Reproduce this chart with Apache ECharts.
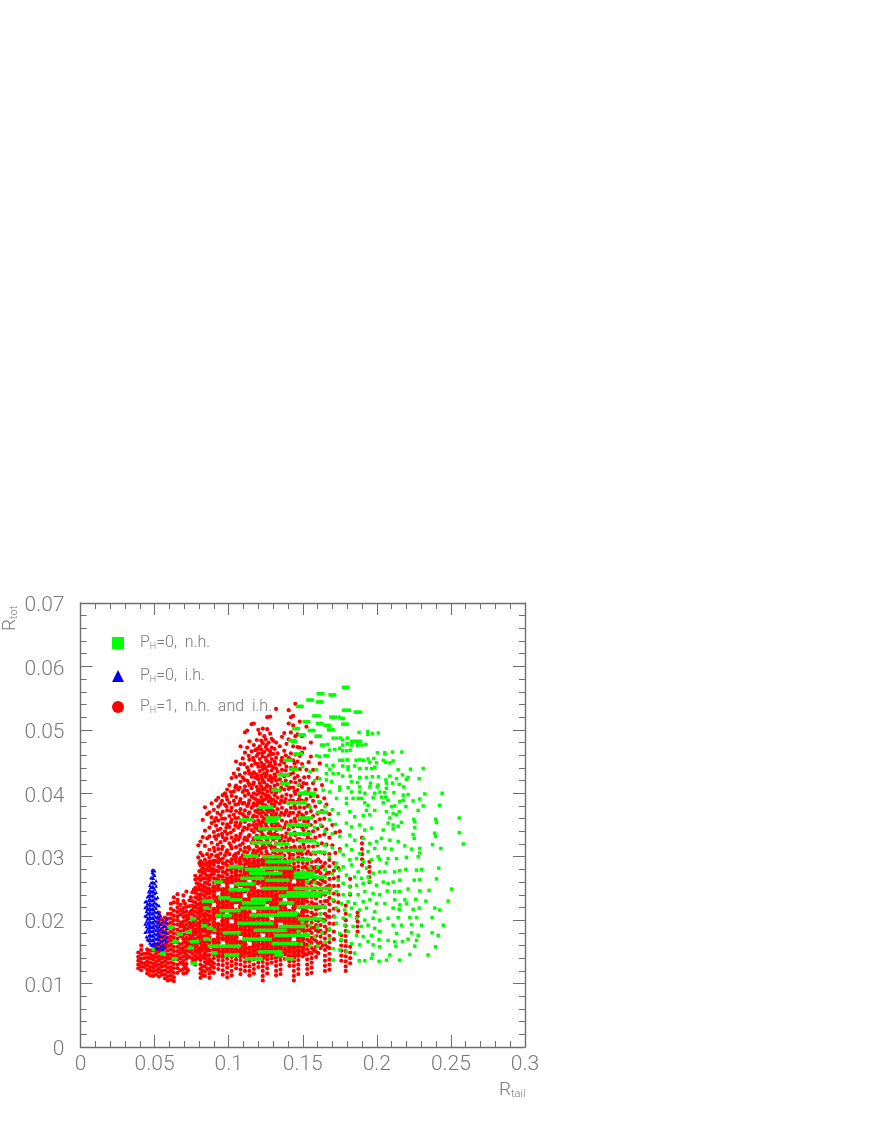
<!DOCTYPE html>
<html><head><meta charset="utf-8">
<style>html,body{margin:0;padding:0;background:#fff}#c{width:872px;height:1128px}</style>
<script src="https://cdn.jsdelivr.net/npm/echarts@6/dist/echarts.min.js"></script>
</head><body><div id="c"></div>
<script>
// All y values below are in units of 0.001 (R_tot x 1000); x values are R_tail.
const xTicks=[0,0.05,0.1,0.15,0.2,0.25,0.3];
const yTicks=[0,0.01,0.02,0.03,0.04,0.05,0.06,0.07];

// Red: solid core of the cloud, columns [x,[y...]]
const redCore=[
[.090,[14.7,15.4,16.1,16.8,18.2,18.9,19.6,20.3,21,21.7,23.1,23.8,24.5,25.2]],
[.093,[14.4,15.1,15.8,16.5,17.2,17.9,18.6,19.3,20.7,21.4,22.1,22.8,23.5,24.9,25.6]],
[.096,[14.3,15,15.7,17.1,17.8,18.5,19.2,19.9,20.6,21.3,22,22.7,23.4,24.1,24.8,26.2]],
[.099,[14.6,15.3,16,16.7,17.4,18.1,18.8,19.5,20.2,21.6,22.3,23,23.7,24.4,25.1,25.8,26.5]],
[.102,[14.9,15.6,16.3,17,17.7,18.4,19.1,20.5,21.2,21.9,22.6,23.3,24,24.7,26.1,26.8]],
[.105,[14.5,15.2,15.9,16.6,17.3,18,18.7,19.4,20.1,20.8,21.5,22.9,23.6,24.3,25,25.7,26.4,27.1,27.8]],
[.108,[14.4,15.1,15.8,16.5,17.9,18.6,19.3,20,20.7,21.4,22.1,22.8,23.5,24.2,25.6,26.3,27,28.4]],
[.111,[14.8,15.5,16.2,16.9,17.6,18.3,19,19.7,20.4,21.1,21.8,22.5,23.2,24.6,25.3,26,26.7,27.4,28.1,29.5]],
[.114,[14.2,14.9,15.6,17,17.7,18.4,19.1,19.8,20.5,21.2,21.9,22.6,23.3,24,24.7,25.4,26.8,27.5,28.2,28.9]],
[.117,[14.5,15.2,15.9,16.6,17.3,18,18.7,19.4,20.1,20.8,22.2,22.9,23.6,24.3,25,25.7,26.4,27.1,27.8,28.5,29.2,29.9]],
[.120,[14.7,15.4,16.1,16.8,17.5,18.2,18.9,19.6,20.3,21,21.7,22.4,23.1,23.8,24.5,25.9,26.6,27.3,28,28.7,29.4]],
[.123,[14.1,14.8,15.5,16.2,16.9,18.3,19,19.7,20.4,21.1,21.8,22.5,23.2,23.9,24.6,25.3,26,26.7,27.4,28.8,29.5]],
[.126,[14.5,15.2,15.9,16.6,17.3,18,18.7,19.4,20.1,20.8,21.5,22.9,23.6,24.3,25,25.7,26.4,27.1,27.8,28.5,29.2,29.9]],
[.129,[14.7,15.4,16.1,16.8,17.5,18.2,18.9,19.6,21,21.7,22.4,23.1,23.8,24.5,25.2,25.9,26.6,27.3,28,28.7,29.4]],
[.132,[14.2,14.9,15.6,16.3,17,17.7,18.4,19.1,19.8,20.5,21.2,21.9,22.6,23.3,24,24.7,25.4,26.1,26.8,28.2,28.9,29.6]],
[.135,[14.4,15.1,15.8,16.5,17.2,17.9,18.6,20,20.7,21.4,22.1,22.8,23.5,24.2,24.9,25.6,26.3,27,27.7,28.4,29.1]],
[.138,[14.7,15.4,16.2,16.9,17.6,18.3,19,19.7,20.4,21.1,21.8,22.5,23.9,24.6,25.3,26,26.7,27.4,28.1,28.8]],
[.141,[14.3,15.1,15.8,16.5,17.2,17.9,18.6,19.3,20,20.7,21.4,22.8,23.5,24.2,24.9,25.6,26.3,27,27.7,28.4]],
[.144,[14.2,14.9,15.6,16.3,17.7,18.4,19.1,19.8,20.5,21.2,21.9,22.6,23.3,24,24.7,25.4,26.8,27.5,28.2]],
[.147,[14.5,15.2,15.9,16.6,17.3,18,18.7,19.4,20.1,20.8,22.2,22.9,23.6,24.3,25,25.7,26.4,27.1]],
[.150,[15,15.7,16.4,17.1,18.5,19.2,19.9,20.6,21.3,22,22.7,23.4,24.8,25.5,26.2]]
];

// Red: looser columns [x,[y...]]
const redLoose=[
[.039,[12.4,13,13.6,14.2,14.9]],
[.041,[12.1,12.7,13.3,13.9,14.6,15.3,16]],
[.043,[12.6,13.2,14,14.7]],
[.045,[11.6,12.2,12.9,13.5,14.1,14.8,15.4]],
[.047,[11.3,12,12.6,13.3,14,14.6,15.2]],
[.049,[11.2,11.9,12.5,13.1,13.8,14.4,15.2,16]],
[.051,[11.4,12.1,12.8,13.4,14.1,14.7,15.3,16]],
[.053,[11.1,11.8,12.4,13,13.7,14.3,15,15.6,16.3,17,17.7,18.4,19.2,19.9,20.6,21.2]],
[.055,[11.4,12,12.7,13.3,14,14.6,15.3,15.9,16.6,17.3,18,18.6,19.4,20.1]],
[.057,[10.8,11.4,12.1,12.8,13.5,14.1,14.8,15.5,16.2,16.9,17.5,18.2,19,19.7,20.4]],
[.059,[10.5,11.1,11.8,12.5,13.2,13.9,14.5,15.2,15.9,16.6,17.2,17.9,18.7,19.4,20.2,21]],
[.061,[10.6,11.3,12,12.6,13.3,14,14.6,15.4,16.1,16.8,17.4,18.2,18.9,19.6,20.3,21,21.8,22.6]],
[.063,[10.4,11,11.7,12.4,13.1,13.8,14.4,15.1,15.8,16.5,17.2,17.9,18.6,19.3,20,20.7,21.5,22.8,23.6]],
[.0655,[11.7,12.4,13,13.8,14.4,15.1,15.8,16.5,17.1,17.8,18.5,19.3,20,20.6,21.3,22,22.7,23.2]],
[.0675,[12.1,13.3,14,14.8,15.5,16.2,17.5,18.2,19,19.6,20.9,21.6,22.4]],
[.0695,[11.6,12.3,13,13.6,14.3,15,15.7,16.4,17,17.7,18.4,19,19.8,20.5,21.2,21.9,23,23.9]],
[.0715,[11.7,12.4,13.1,13.9,14.5,15.2,15.9,16.5,17.2,17.9,18.6,19.3,20,20.7,21.4,22.1,24.5]],
[.0735,[14.2,15,15.6,16.3,17,17.7,18.9,19.6,20.3,21,22.2,23.1]],
[.0755,[13.4,14,14.7,15.4,16.1,16.8,17.5,18.2,18.8,19.5,20.2,20.9,21.6,22.3,23,24.4]],
[.0775,[13,13.7,14.4,15.1,15.8,16.4,17.1,17.8,18.5,19.2,19.9,20.6,21.3,22,22.8,23.6,24.3,25.1,26.4,27]],
[.0795,[14,14.8,15.5,16.6,17.4,18.1,18.8,19.5,20.3,21,21.8,22.5,23.3,24,24.9,25.7,26.6]],
[.081,[10.9,11.6,12.3,13,13.7,14.4,15,15.7,16.4,17.1,17.8,18.5,19.1,19.8,20.6,21.3,22,22.7,23.4,24.1,24.8,25.6,26.3,27,27.8,28.6,29.3]],
[.0825,[11.3,12,12.7,14.1,15.3,16,16.7,17.4,18.3,19.2,20,20.9,21.6,22.3,23.2,24,24.7,25.4,26.6,27.5,28.2,29]],
[.084,[11.2,11.9,12.7,13.4,14,14.8,15.5,16.1,16.8,17.5,18.2,18.9,19.6,20.3,21,21.7,22.4,23.1,23.8,24.5,25.2,25.9,26.6,27.3,28,28.7,29.5]],
[.0855,[12.3,13.2,14.4,15.2,15.9,16.6,17.6,18.4,19.2,20,20.8,21.5,22.5,23.3,24.2,25,25.8,27,27.9,29]],
[.087,[10.9,11.6,12.3,13.1,13.8,14.5,15.2,15.9,16.5,17.2,17.9,18.6,19.3,20,20.7,21.4,22.1,22.8,23.5,24.2,24.9,25.6,26.3,27,27.8,28.5,29.2,29.9]],
[.0885,[11.8,12.7,13.5,27.2,28.1,29.2]],
[.090,[11.7,12.5,13.2,14,25.9,26.6,27.3,28,28.7,29.4]],
[.093,[12.3,13,13.7,26.3,27,27.7,28.4,29.1,29.8]],
[.096,[11.4,12.1,12.9,13.6,26.9,27.6,28.3,29,29.7]],
[.099,[11,11.7,12.5,13.2,13.9,27.2,27.9,28.6,29.3]],
[.102,[11.3,12,12.8,13.5,14.2,27.5,28.2,28.9,29.6]],
[.105,[12.4,13.1,13.8,28.5,29.2,29.9]],
[.108,[11.5,12.2,13,13.7,27.7,29.1,29.8]],
[.111,[12,12.7,13.4,14.1,28.8]],
[.114,[11.3,12,12.7,13.5,29.6]],
[.117,[11.6,12.3,13,13.8]],
[.120,[12.6,13.3,14]],
[.123,[10.5,11.2,12,12.7,13.4]],
[.126,[11.6,12.4,13.1,13.8]],
[.129,[13.3,14]],
[.132,[11.3,12,12.8,13.5]],
[.135,[11.5,12.2,13,13.7,29.8]],
[.138,[13.9,29.5]],
[.141,[12.8,13.5,29.1,29.8]],
[.144,[10.5,11.2,12,12.8,13.5,28.9,29.6]],
[.147,[11.5,12.3,13,13.7,27.8,28.5,29.2,29.9]],
[.150,[14.3,26.9,27.6,28.3,29,29.7]],
[.153,[11.5,12.3,13,13.8,14.6,15.4,16.1,16.9,17.6,18.4,19.1,19.9,20.6,21.4,22.1,22.9,23.6,24.4,25.1,25.9,26.6,27.4,28.1,28.9,29.6]],
[.156,[11.7,12.5,13.3,14,14.8,15.6,16.4,17.2,18,18.8,19.6,20.4,21.2,22,22.8,23.6,24.4,25.2,26,26.8,27.6,28.4,29.2]],
[.159,[14.2,15,15.8,16.7,17.5,18.4,19.2,20,20.9,21.7,22.5,23.4,24.2,25,25.9,26.7,27.6,28.4,29.3]],
[.162,[15.6,16.5,17.4,18.3,19.2,20.1,21,22,22.9,23.8,24.7,25.6,26.5,27.4,28.3,29.2]],
[.165,[12,12.8,13.6,14.4,15.3,16.2,17.1,18,19,20,21,22,23,24,25,26,27,28,29]],
[.168,[12.2,13,13.8,14.7,15.6,16.5,17.5,18.5,19.5,20.5,21.5,22.5,23.5,24.5,25.5,26.5,27.5,28.5,29.5]],
[.171,[17,18.2,19.4,20.6,21.8,23,24.2,25.4,26.6,27.8,29]],
[.174,[21.5,22.8,24,25.4,26.8,28.2]],
[.176,[13.6,14.4,15.2,16,16.8,17.6]],
[.179,[12,12.7,13.5,14.3,15.1,15.9,16.7,17.5,18.3,19.1,20,21,22.3]],
[.182,[13.2,14,14.9,15.8,24,25.3,26.5]],
[.187,[18.2,19,19.8,20.6,21.2]],
[.190,[28.7,29.6,30.4,31.2,32.1,33]],
[.195,[26,26.8,27.6,28.4,29.2]]
];

// Red: upper cloud, columns [x,[y...]]
const redUpper=[
[.0795,[31.8,29.9]],[.081,[30.6,32.4]],[.0825,[33.1,30.2,35.8]],[.084,[31.7,37.8,34.1]],[.0855,[30.4,32.9,36.7]],
[.087,[31.1,34.6,33.2,37]],[.0885,[30.3,32.2,35.3,36.2,38.4]],[.090,[31.4,33.9,37.4]],[.0915,[30.1,32.8,34.9,36.1,38.9]],
[.093,[31.2,33.4,35.7,37.9,39.3]],[.0945,[30.5,32.3,34.4,36.6,38.3]],[.096,[31.6,33.1,35.2,37.1,39.7]],[.0975,[30.2,32.6,34,36,38.2,40]],
[.099,[31,33.6,35.1,37.3,39,40.6]],[.1005,[30.4,32.1,34.7,36.4,38.5,41.3]],[.102,[31.3,33,35.8,37.7,39.6,42.4]],
[.1035,[30.1,32.4,34.2,36.6,38.8,40.3,43.1]],[.105,[31.5,33.3,35.4,37.2,39.4,41.2,42.6,45]],[.1065,[30.6,32.7,34.6,36.1,38.3,40.6,43.8]],
[.108,[31.1,33.6,35.3,37.5,39.1,41.8,44.6,47.4]],[.1095,[30.2,32.1,34.1,36.7,38.4,40.2,42.5,45.5]],[.111,[31.4,33,35.5,37.3,39.6,41.1,43.2,46.4,49.6]],
[.1125,[30.7,32.6,34.4,36.2,38,40.4,42,44.1,47.2,49.9]],[.114,[31.2,33.4,35,37,38.9,41.3,43.1,45.3,48.2]],[.1155,[30.1,32.2,34.2,35.9,37.7,39.5,40.8,42.6,44.4,46.6,50.9]],
[.117,[31,32.9,33.9,35.6,36.5,38.4,40,41.7,43.3,45.2,47.6,51]],[.118,[30.5,32.1,34.5,37.2,39.1,42.5,44.7,46.8]],[.119,[31.6,33.3,35.1,36.3,38.1,39.8,41,43,45.9,48.4]],
[.120,[30.2,32.5,34.2,35.7,37.4,38.9,40.6,42.2,44.2,46.3,50]],[.121,[31.2,33,35.2,36.8,38.5,40.1,41.6,43.5,45.4,47.4,49.4]],[.122,[30.6,32.4,33.9,34.8,37.5,39.4,41.1,42.8,44.8,46.9,48.3]],
[.123,[31.7,33.5,35.6,37,38.3,40,42,43.8,45.8,47.9,50.2]],[.124,[30.1,32,34.3,36,39,40.7,41.7,43.1,44.5,46.5,49]],[.125,[31.4,33.1,35.2,36.7,38.1,39.7,42.6,44,45.6,47.3,48.5]],
[.126,[30.4,32.6,34.5,36.3,37.8,40.3,41.3,43.5,45,46.9,50.1,52]],[.127,[31.9,33.7,35.6,37.1,38.7,39.6,42.1,44.3,46,48]],[.128,[30.2,32.2,34.1,36,37.5,39.3,41,42.7,44.8,46.6,49.4,52.1]],
[.129,[31.3,33.2,35,36.6,38.3,40.2,41.8,43.6,45.4,47.2,48.6]],[.130,[30.7,32.7,34.6,37.2,39,40.6,42.4,44.1,46.2,48.3]],[.131,[31.5,33.6,35.4,36.2,38,39.7,41.2,43,45,47]],
[.132,[30.3,32.1,34.2,36.8,38.6,40.1,42,43.9,45.6,48,53.3]],[.133,[31.1,33.4,35.2,37.5,39.3,41.4,43.4,46.3]],[.1345,[30.5,32.5,34.8,36.4,38.4,40.4,42.2,44.5,47.4]],
[.136,[31.3,33.3,35.7,37.7,39.5,41.6,43.7,45.6,48.9]],[.1375,[30.2,32.4,34.6,36.6,38.6,40.6,42.7,44.8,46.7,49.5]],[.139,[31.5,33.7,35.4,37.3,39.8,41.3,44.2,47.8]],
[.1405,[30.7,32.6,34.3,36.5,38.5,40.7,42.9,45.6,48.5,51,53.1]],[.142,[31.4,33.5,35.6,37.7,39.6,41.8,44,46.3,49.6,52]],[.1435,[30.3,32.5,34.7,36.9,38.8,40.9,43.2,45.2,47.4,50.7,52.2]],
[.145,[31.2,33.4,35.5,37.6,39.9,41.7,44,46.1,49,54.1]],[.1465,[30.6,32.7,34.8,36.5,38.7,40.5,42.7,45,47.3,49.3]],[.148,[31.5,33.6,35.9,37.8,39.7,42,43.8,45.9,47.2,51.3]],
[.1495,[30.4,32.6,34.6,36.6,38.8,41,44.6,46.4,49]],[.151,[31.3,33.5,35.6,37.7,40,42.5,47.1]],[.1525,[30.5,32.6,34.7,36.9,39.1,41.5,43.7,50.5]],
[.154,[31.6,33.9,36,38.1,40.7,42.6,44.9]],[.1555,[30.4,32.7,35,37.2,39.5,45.8,48]],[.157,[31.6,34,36.4,38.8,41.6,43.7]],
[.1585,[30.5,33,35.5,37.9,40.6]],[.160,[31.8,34.4,36.8,39.5,42.4]],[.1615,[30.7,33.3,35.9,38.6,44.7]],[.163,[32.1,34.8,37.2,41.3]],[.1645,[30.5,33.5,36,39.2]],
[.166,[31.9,34.3,38.2]],[.168,[30.4,33,36.7]],[.170,[31.8,35]],[.172,[30.6,33.8]],[.175,[31.2,34]]
];

// Red: extra points read between the columns [x,[y...]]
const redExtra=[
[.0905,[30.9,33.2,35.6]],[.0925,[30.2,31.9,34.2,36.9]],[.0955,[31.2,33.6,36,38.8]],[.0985,[30.7,32.9,34.6,37.9,39.5]],
[.1015,[31.7,33.8,35.4,37.2,40.2]],[.1045,[30.4,32.7,34.9,36.1,38.2,40.9]],[.1075,[31.8,33.1,34.9,36.9,38.7,40.9,42.9]],[.1105,[30.8,32.7,34.6,36.4,38.5,40.5,42.1,44.6]],
[.1135,[31.5,33.2,34.9,36.8,38.4,39.9,41.6,43.6,45.9]],[.1165,[30.6,32.5,35,36.3,38,39.3,41.4,43.1,45.6]],[.1195,[30.9,32.7,34.5,37,38.5,40.4,42.6,44.6,47]],
[.1225,[31.3,33.2,35.4,36.3,38.8,40.6,42.4,44.2,46.3]],[.1255,[30.8,32.8,34.8,35.8,37.4,39.2,41,43,45.2,47.6]],[.1285,[31.7,33.6,35.5,37.3,38.9,40.6,42.2,44.4,46.1]],
[.1315,[30.9,32.9,34.8,36.6,38.6,40.6,42.6,44.6]],[.1355,[30.7,32.9,34.4,36.9,38.9,40.9,43,45.1]],[.1385,[31.1,33.1,35.1,37,39.1,42,43.6,46]],
[.1415,[30.3,32.9,35,36.9,38.9,40.9,43,45.3]],[.1445,[31.6,33.8,36,38,40.3,42.4,44.7]],[.1475,[30.6,32.8,34.9,37,39.1,41.3]],[.1505,[31.9,34.2,36.4,38.7,41.6]],[.1535,[30.8,33.1,35.5,38,40.2]],
[.0875,[18.3,20.5,22.5,24.6,26.8,28.9]],[.0895,[27.7,29]],[.0915,[26.5,27.8,29.3]],[.0945,[26.9,28.2,29.5]],[.0975,[27.5,28.9]],
[.1015,[27.9,29.2]],[.1045,[28.2,29.5]],[.1075,[28.9,29.5]],[.1095,[28.6,29.9]],[.1125,[29.2]],[.1515,[14.6,16.2,18,19.6,21.5,23.2,25,26.7,28.4]],
[.1545,[14.9,16.7,18.4,20.3,22.2,24,25.8,27.7]],[.1575,[15.3,17,18.8,20.8,22.5,24.6,26.4,28.2]],[.1605,[14.8,16.3,18.2,19.9,21.9,23.9,25.8,27.8,29.6]],[.1635,[16,18,20.1,22.3,24.2,26.2,28.5]],[.1665,[15.8,18.5,20.6,23,25.3,27.4]],
[.0655,[24.1]],[.0685,[13.2,15.4,17.4,19.4,21.6]],[.0705,[12.8,14.9,16.8,18.7,20.6,22.6]],[.0725,[12.1,14.2,16.2,18.3,20.4]],[.0745,[15.3,17.3,19.2,21.4,23.6]],
[.0765,[13.7,15.7,17.9,19.9,22.1,24.8]],[.0785,[14.1,16.1,18.2,20.2,22.4,24.7,25.8]],[.0802,[15.2,17.2,19.3,21.5,23.7,25.4,27.7,29]],[.0835,[14.6,16.5,18.7,20.7,22.9,25.2,27.4]],[.0862,[13.7,15.6,17.9,19.9,21.9,24.6,26.4,28.4]]
];

// Blue: columns [x,[y...]]
const blueColumns=[
[.0436,[18.1,19.4,20.7,22,22.9]],
[.0445,[17.4,18.2,19,19.8,20.6,21.4,22.2,23]],
[.0452,[17,18.6,19.4,20.2,21,21.8,22.6,23.7]],
[.0460,[16.8,17.5,18.2,18.9,19.6,20.3,21,21.7,22.4,23.1,23.8,24.5]],
[.0468,[16.4,17.1,17.8,18.5,19.2,19.9,20.6,21.3,22,22.7,23.4,24.1,24.8,25.5]],
[.0476,[16.1,16.8,17.5,18.2,18.9,19.6,20.3,21,21.7,22.4,23.1,23.8,24.5,25.2,25.9,26.7]],
[.0484,[15.5,16.2,16.9,17.6,18.3,19,19.7,20.4,21.1,21.8,22.5,23.2,23.9,24.6,25.3,26,26.7,27.5,27.9]],
[.0492,[15.4,16.1,16.8,17.5,18.2,18.9,19.6,20.3,21,21.7,22.4,23.1,23.8,24.5,25.2,25.9,26.6,27.3,27.9]],
[.0500,[15.8,16.5,17.2,17.9,18.6,19.3,20,20.7,21.4,22.1,22.8,23.5,24.2,24.9,25.8,27.1,27.8]],
[.0510,[15.6,16.3,17,17.7,18.4,19.1,19.8,20.5,21.2,21.9,22.6,23.4,24.4,25.4,26.2]],
[.0520,[15.6,16.4,17.2,18,18.8,19.6,20.4,21.3,22.4,23.6]],
[.0530,[15.5,16.2,16.9,17.6,18.3,19,19.7,20.4,21.1,22.3]],
[.0542,[15.7,16.6,17.5,18.6,19.4,20.7]],
[.0555,[15.4,16.1,16.8,17.5,18.2,19,19.8]],
[.0568,[15.8,16.9,18.1,19.1]],
[.0580,[16.6,17.3,18,18.7,19.6,20.2]]
];

// Green: horizontal dashes [y,[x...]]
const greenRows=[
[13.9,[.0625,.0645,.112,.114,.116,.118,.12,.122,.139,.141,.143]],
[13.2,[.0755,.0775]],[14.8,[.0895,.0915]],[14.7,[.0548,.0565]],[15.4,[.049]],
[14.5,[.098,.1,.102,.104,.106,.132,.134,.136]],
[15,[.121,.123,.125,.127,.129,.131,.133,.135]],
[15.9,[.087,.089,.091,.093,.095,.097,.099,.101,.103,.105,.107]],
[16.3,[.13,.132,.134,.136,.138,.14,.142,.144,.146]],
[15.6,[.0735,.0755]],[16.6,[.063,.065,.075,.077,.079]],[17.8,[.066,.068]],[18.1,[.072,.074]],[18.9,[.06,.062]],
[17,[.084,.0865,.11,.112,.114,.116,.118,.12,.122,.124,.126,.128]],
[17.6,[.132,.134,.136,.138,.14,.142,.144,.146,.148,.15,.152,.154]],
[18,[.097,.099,.101,.103,.105,.107]],
[18.4,[.118,.12,.122,.124,.126,.128,.13,.132,.134,.136,.138,.0905]],
[18.7,[.0865,.0885]],[19.1,[.0826,.0845]],
[19,[.135,.137,.139,.141,.143,.145,.147,.149,.151]],
[19.5,[.107,.109,.111,.113,.115,.117,.119,.121,.123,.125,.127,.129]],
[20.2,[.075,.077,.148,.15,.152,.154,.156,.158,.16,.162]],
[20.7,[.092,.094,.097,.099,.101]],
[20.8,[.115,.117,.119,.121,.123,.125,.127,.129,.131,.133,.135,.137,.139,.141,.143,.145]],
[21.5,[.095,.097,.099,.101,.103,.105,.107]],
[21.9,[.084,.086,.109,.111,.113,.115,.117,.119,.121,.123,.125,.127,.129,.131,.133]],
[21.1,[.134,.136,.138,.14,.142,.144,.146]],
[22.1,[.147,.149,.151,.153,.155,.157,.159,.161,.163,.165]],
[22.7,[.11,.112,.114,.116,.118,.12,.122,.124,.135,.137,.139,.141,.143]],
[23,[.083,.085,.087,.089]],[23.5,[.094,.096,.098,.1]],[23.2,[.102,.104,.106,.108]],
[23.3,[.116,.118,.12,.122,.124,.126,.128]],
[23.8,[.135,.137,.139,.141,.143,.145,.147,.149,.151,.153,.155,.157,.159,.161]],
[24.3,[.14,.142,.144,.146,.148,.15,.152,.154,.156,.158,.16,.162,.164,.166,.168]],
[24.8,[.101,.103,.105,.107,.109,.111,.113]],
[25,[.123,.125,.127,.129,.131,.133,.135,.137,.139,.145,.147,.149,.151,.153,.155,.157,.159,.161,.163,.165,.167,.169]],
[25.7,[.105,.107,.109,.111,.113,.115,.117]],
[26,[.091,.093,.095]],
[26.6,[.109,.111,.113,.115,.117,.119,.121,.123]],
[26.3,[.126,.128,.13,.132,.134,.136,.138,.14]],
[26.8,[.145,.147,.149,.151,.153,.155,.157,.159,.161,.163,.165]],
[27.4,[.115,.117,.119,.121,.123,.125,.127,.129,.131,.133,.135,.145,.147,.149,.151,.153,.155,.157]],
[28.4,[.101,.103,.105,.107,.109]],[28,[.112,.114,.116,.118,.12,.122]],
[28.2,[.124,.126,.128,.13,.132,.134,.136,.138,.14,.142]],
[29.2,[.126,.128,.13,.132,.134,.136,.138,.14,.142]],
[30.1,[.111,.113,.115,.117,.119]],[30,[.124,.126,.128,.13,.132,.134,.136]],
[30.7,[.157,.159,.161,.163,.165]],[29.5,[.145,.147,.149,.151,.153,.155]],
[31,[.13,.132,.134,.136,.138,.14,.142,.144,.146,.148,.15]],
[32.2,[.116,.118,.12,.122,.124,.126,.128]],[32,[.132,.134,.136,.138,.14]],
[32.5,[.148,.15,.152,.154,.156,.158]],[33.6,[.141,.143,.145,.147,.149,.151,.153,.155]],
[33,[.118,.12,.122,.124,.126,.128,.13,.132,.134]],
[34.4,[.121,.123,.125,.127,.129,.131,.133,.135]],[35.6,[.126,.128,.13,.132]],
[35,[.14,.142,.144,.146,.148,.15,.152,.154]],
[35.8,[.108,.11,.112,.114,.116]],[36.1,[.126,.128,.13,.132,.134,.148,.15,.152,.154,.156]],
[37,[.16,.162,.164,.166]],[37.8,[.121,.123,.125,.127,.129]],[38.5,[.14,.142,.144,.146,.148,.15,.152]],
[40,[.148,.15,.152,.154,.156,.158]],[40.5,[.13,.132,.134]],[41.5,[.136,.138,.14]],
[42.9,[.134,.136,.138,.14]],[43.8,[.142,.144,.146]],[45.2,[.138,.14,.142]],[46.2,[.145,.147,.149]],[48.2,[.143,.145]],
[56.7,[.1775,.179,.1805]],[55.7,[.1605,.162,.1635]],[55.5,[.1685,.17,.1715]],[54.7,[.1535,.155,.1565]],
[54.4,[.16,.1615,.163]],[53.7,[.1465,.148,.1495]],[53.1,[.1775,.1795,.1815]],[52.8,[.1855,.187,.189]],
[52.2,[.1575,.159,.161]],[52,[.169,.1705,.172,.1745]],[51.8,[.176,.1775]],[51,[.16,.1615,.163]],
[50.7,[.165,.1665,.168]],[51.3,[.151,.1525,.154]],[50.9,[.177,.1785,.18]],[50,[.1675,.169,.1705]],
[49.9,[.1545,.156,.1575]],[50.2,[.144,.1455,.147]],[49.2,[.148,.1495,.151]],[49,[.159,.1605,.162]],
[48.3,[.1415,.143,.1445]],[48.2,[.183,.185,.187,.189]]
];

// Green: loose points [x,y]
const greenDots=[
[.188,49.6],[.194,49.7],[.194,49.3],[.197,49.4],[.201,49.5],[.1705,48.7],[.173,48.7],[.1755,48.7],[.177,48.4],[.18,48.7],[.1626,47.6],[.1644,47.6],[.167,47.7],[.1716,46.9],[.175,47.1],[.177,47.6],[.18,47.8],[.183,47.6],[.187,47.6],[.19,47.6],[.1926,47.7],[.168,46.8],[.1768,46.7],[.1795,46.7],[.182,46.8],[.2004,46.4],[.2054,46.4],[.2054,46.2],[.2106,46.5],[.2169,46.5],[.1593,45.9],[.1615,45.8],[.165,45.9],[.167,45.9],[.175,45.2],[.177,45.2],[.18,45.3],[.186,45.2],[.1885,45.3],[.1908,45.2],[.1941,45.4],[.198,45.5],[.1953,44.9],[.1998,44.8],[.2043,45.2],[.206,44.9],[.2088,44.8],[.211,45.1],[.166,44.4],[.1705,44.4],[.1683,43.8],[.177,44.3],[.1806,44.2],[.1806,43.8],[.185,44.3],[.1885,43.9],[.193,43.9],[.1964,43.9],[.1986,44.1],[.2144,43.7],[.2227,43.8],[.2313,43.9],[.1593,43.7],[.166,43.1],[.1705,43.1],[.174,43.1],[.177,42.7],[.182,42.7],[.1885,42.5],[.193,42.5],[.197,42.6],[.2011,42.6],[.2088,42.7],[.2173,42.9],[.2211,42.5],[.2286,42.3],[.22,42.2],[.2133,42.3],[.2061,42.1],[.1615,42.3],[.166,42.1],[.1694,41.8],[.1829,41.8],[.1869,41.7],[.1957,41.6],[.2009,41.3],[.2065,41.6],[.2106,41.6],[.2151,41.4],[.2182,41],[.175,41],[.1806,40.9],[.1885,41],[.1953,41],[.2002,41],[.2065,40.8],[.1638,40.5],[.1683,40.2],[.175,40.5],[.1829,40.2],[.1885,40.2],[.1919,40],[.1986,40],[.2021,40.2],[.2054,40.1],[.2115,40.1],[.2178,39.7],[.2211,39.8],[.2324,39.9],[.2441,40],[.1728,39.2],[.1795,39.2],[.184,39.2],[.1874,39.2],[.1896,39.2],[.1975,39.3],[.2031,39.4],[.206,39.4],[.2178,38.9],[.2245,38.8],[.229,39.1],[.1795,38.4],[.1919,38.5],[.1941,38.1],[.2043,38.5],[.2076,38.9],[.2099,37.9],[.2121,38],[.2155,38.7],[.2196,37.9],[.2425,38.1],[.2313,38],[.2279,37.3],[.1818,37.1],[.193,37.3],[.1986,37.3],[.2065,37.1],[.211,36.8],[.2151,37.1],[.1851,36.3],[.1908,36.5],[.1953,36.6],[.2088,36.1],[.2133,36.6],[.225,35.9],[.2398,35.9],[.2556,36.1],
[.2166,35.4],[.211,35],[.2144,34.8],[.2076,35.3],[.2256,35.5],[.2256,34.6],[.2403,35.4],[.2043,34.2],[.211,34.4],[.2245,33.5],[.2252,32.9],[.2391,33.7],[.2398,33.2],[.2556,33.8],[.2583,32],[.2031,32.9],[.2088,32.6],[.2144,32.4],[.2189,31.7],[.2234,31.2],[.229,31.3],[.2376,31.9],[.2432,31.3],[.2054,31.3],[.2099,31.2],[.2133,29.7],[.22,29.9],[.2279,30],[.229,30.6],[.2076,29.7],[.202,29.6],[.2065,29],[.2121,27.6],[.2155,27.8],[.2196,28],[.2268,27.9],[.2301,28],[.2418,28.2],[.202,27.6],[.2054,27.6],[.2155,26.3],[.211,26],[.2252,26.3],[.229,26.4],[.2403,26.5],[.2043,26],[.2076,25.8],[.2211,24.9],[.2155,24.5],[.2121,24.5],[.207,24.6],[.229,24.6],[.2353,24.7],[.2504,24.9],[.202,24],[.2121,23.2],[.2189,23.2],[.2263,23.3],[.2331,23],[.2481,23],[.2054,22.6],[.2155,22.4],[.22,22.6],[.211,21.9],[.2151,21.7],[.2245,21.7],[.2286,21.9],[.2391,21.9],[.2425,21.6],[.2076,20.3],[.2144,20.4],[.2223,20.4],[.2268,20.4],[.2373,20.4],[.211,19.2],[.2166,19.2],[.2234,19.3],[.2301,19.2],[.2448,19.2],[.2133,17.9],[.2234,18],[.2279,17.6],[.2373,18],[.2414,17.6],[.2015,16.9],[.2076,16.8],[.2121,16.6],[.2211,17],[.2268,16.8],[.2128,15.9],[.2173,16.6],[.2256,15.9],[.2396,15.8],[.1975,16.1],[.202,15.8],[.1971,14.6],[.2088,14.5],[.2223,14.6],[.2346,14.5],[.1881,13.6],[.1919,13.6],[.2015,13.5],[.2065,13.7],[.2155,13.7],[.1964,14],
[.1795,35.3],[.1829,34.7],[.1885,35],[.1919,34.2],[.1964,34.5],[.1818,33.4],[.1851,32.6],[.1908,32.9],[.1953,32.1],[.1998,32.4],[.1795,31.8],[.1829,31.1],[.1885,30.5],[.1941,30.8],[.1986,31.3],[.1773,30.3],[.1818,29.5],[.1863,29.7],[.1908,29.2],[.1964,29.5],[.2009,30],[.1728,29],[.1773,28.4],[.1829,28.7],[.1874,27.6],[.193,28.2],[.1975,27.4],[.1795,27.1],[.1851,26.8],[.1896,26.6],[.1941,26.8],[.1739,26.3],[.1773,25.8],[.1818,25.3],[.1863,25.5],[.1908,25.8],[.1953,26.1],[.1998,25.5],[.1728,24.5],[.1773,24],[.1818,24.2],[.1874,24],[.1919,24.5],[.1975,24.2],[.1705,23.2],[.1761,22.6],[.1806,22.9],[.1851,22.6],[.1908,22.9],[.1953,23.2],[.1998,22.6],[.1728,21.9],[.1784,21.6],[.1829,21.9],[.1885,21.6],[.193,21.9],[.1986,21.3],[.1716,20.5],[.1773,20.3],[.1818,20.8],[.1863,20.3],[.1919,20],[.1975,20.3],[.202,20],[.1728,19.5],[.1784,19.2],[.184,19],[.1896,19],[.1941,19.2],[.1986,18.7],[.175,17.9],[.1806,18.2],[.1863,17.6],[.1908,17.4],[.1964,17.6],[.202,18.2],[.1683,17.1],[.1761,16.9],[.1829,16.3],[.1885,16.1],[.1941,16.6],[.1705,15.5],[.175,15.3],[.1795,15],[.1851,14.8],[.1705,13.7],
[.15,44.2],[.155,43.4],[.158,42],[.147,41.3],[.152,40.2],[.157,39.6],[.161,38.7],[.165,37.9],[.15,38.6],[.155,37.8],[.17,37.4],[.174,36.8],[.168,35.8],[.172,35.1],[.162,35],[.158,34.6],[.165,34],[.17,33.6],[.175,33.2],[.16,32.1],[.165,31.8],[.17,31.4],[.175,30.9],[.168,30],[.172,28.4],[.16,28.4],[.155,28.2],[.15,27.8],[.165,28],[.158,25.9],[.153,26],[.17,27.3],[.175,27.9],[.162,21],[.158,20.4],[.164,19.8],[.16,18.9],[.155,19.2],[.15,19.6],[.168,18.6],[.163,18],[.158,17.4],[.152,17.8],[.147,18.2],[.165,16.5],[.16,15.9],[.155,16],[.149,16.2]
];

const col=c=>c[1].map(y=>[c[0],y/1000]);
const redCoreData=redCore.flatMap(col);
const redData=redLoose.flatMap(col).concat(redUpper.flatMap(col),redExtra.flatMap(col));
const blueData=blueColumns.flatMap(col);
const greenData=greenRows.flatMap(r=>r[1].map(x=>[x,r[0]/1000])).concat(greenDots.map(p=>[p[0],p[1]/1000]));

const labelFont='Roboto';
const axisColor='#6e6e6e', textColor='#7a7a7a';
const axisCommon={
  axisLine:{onZero:false,lineStyle:{color:axisColor,width:1.4}},
  axisTick:{show:true,inside:true,length:12,lineStyle:{color:axisColor,width:1}},
  minorTick:{show:true,splitNumber:5,length:6,lineStyle:{color:axisColor,width:1}},
  splitLine:{show:false},minorSplitLine:{show:false}
};
const lab=(extra)=>Object.assign({show:true,fontFamily:labelFont,fontWeight:300,fontSize:21,color:textColor,
  formatter:v=>String(+(+v).toFixed(2))},extra);
const richLegend={
  pad:{width:11},
  t:{fontFamily:labelFont,fontWeight:300,fontSize:16,color:textColor},
  s:{fontFamily:labelFont,fontWeight:300,fontSize:9,color:textColor,verticalAlign:'bottom',padding:[6,0,0,0]}
};
const legendItem=(name,icon,top)=>({
  data:[{name,icon}],left:112,top,itemWidth:12,itemHeight:12,orient:'vertical',padding:0,
  selectedMode:false,textStyle:{rich:richLegend}
});
const nameGreen='{pad|}{t|P}{s|H}{t|=0,  n.h.}';
const nameBlue='{pad|}{t|P}{s|H}{t|=0,  i.h.}';
const nameRed='{pad|}{t|P}{s|H}{t|=1,  n.h.  and  i.h.}';

const common={type:'scatter',silent:true,progressive:0,large:false};
const chart=echarts.init(document.getElementById('c'),null,{renderer:'canvas'});
chart.setOption({
  animation:false,backgroundColor:'#fff',
  grid:{left:80.5,top:603,width:444.5,height:444,containLabel:false},
  xAxis:[
    Object.assign({type:'value',min:0,max:.3,interval:.05,position:'bottom',axisLabel:lab({margin:7})},axisCommon),
    Object.assign({type:'value',min:0,max:.3,interval:.05,position:'top',axisLabel:{show:false}},axisCommon)
  ],
  yAxis:[
    Object.assign({type:'value',min:0,max:.07,interval:.01,position:'left',axisLabel:lab({margin:16,
      formatter:v=>'{a|'+String(+(+v).toFixed(2))+'}',
      rich:{a:{fontFamily:labelFont,fontWeight:300,fontSize:21,color:textColor,padding:[6,0,0,0]}}})},axisCommon),
    Object.assign({type:'value',min:0,max:.07,interval:.01,position:'right',axisLabel:{show:false}},axisCommon)
  ],
  legend:[legendItem(nameGreen,'rect',635),legendItem(nameBlue,'triangle',668),legendItem(nameRed,'circle',699)],
  tooltip:{show:false},
  series:[
    Object.assign({name:nameGreen,data:greenData,symbol:'rect',symbolSize:3.5,z:6,itemStyle:{color:'#00ff00',opacity:1}},common),
    Object.assign({name:nameBlue,data:blueData,symbol:'triangle',symbolSize:3.6,z:5,itemStyle:{color:'#0000ff',opacity:1}},common),
    Object.assign({name:nameRed,data:redData,symbol:'circle',symbolSize:4.2,z:4,itemStyle:{color:'#ff0000',opacity:1}},common),
    Object.assign({name:nameRed,data:redCoreData,symbol:'circle',symbolSize:5.2,z:3,itemStyle:{color:'#ff0000',opacity:1}},common)
  ],
  graphic:[
    {type:'text',x:1,y:631,rotation:Math.PI/2,style:{text:'{r|R}{s|tot}',rich:{
      r:{fontFamily:labelFont,fontWeight:300,fontSize:19,fill:textColor,color:textColor},
      s:{fontFamily:labelFont,fontWeight:300,fontSize:11,fill:textColor,color:textColor,verticalAlign:'bottom',padding:[6,0,0,0]}}}},
    {type:'text',x:499,y:1081,style:{text:'{r|R}{s|tail}',rich:{
      r:{fontFamily:labelFont,fontWeight:300,fontSize:19,fill:textColor,color:textColor},
      s:{fontFamily:labelFont,fontWeight:300,fontSize:11,fill:textColor,color:textColor,verticalAlign:'bottom',padding:[6,0,0,0]}}}}
  ]
});
</script></body></html>
